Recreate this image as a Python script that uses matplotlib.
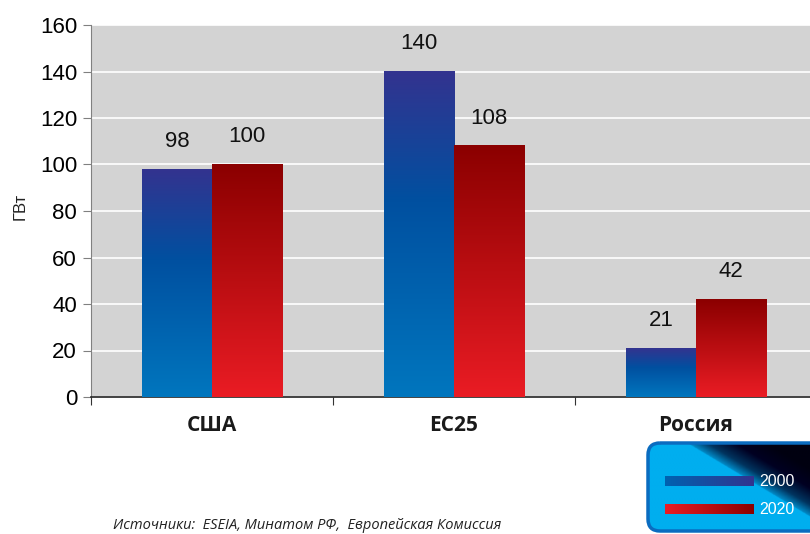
import numpy as np
import matplotlib
matplotlib.use("Agg")
import matplotlib.pyplot as plt
from matplotlib.colors import LinearSegmentedColormap
from matplotlib.patches import FancyBboxPatch

# данные: установленная мощность, ГВт
regions = ["США", "ЕС25", "Россия"]
years = ["2000", "2020"]
values_2000 = [98, 140, 21]
values_2020 = [100, 108, 42]
y_ticks = [0, 20, 40, 60, 80, 100, 120, 140, 160]

blue_cmap = LinearSegmentedColormap.from_list(
    "blue", [(0.0, "#0076be"), (0.6, "#0050a0"), (1.0, "#33338f")])
red_cmap = LinearSegmentedColormap.from_list(
    "red", [(0.0, "#ea1c24"), (1.0, "#8b0000")])

W, H = 810, 534
fig = plt.figure(figsize=(W / 100, H / 100), dpi=100)
ax = fig.add_axes([91 / W, 1 - 397 / H, 726 / W, 372 / H])
ax.set_facecolor("#d3d3d3")

x = np.arange(len(regions))
bw = 0.29
grad = np.linspace(0, 1, 256).reshape(-1, 1)


def gradient_bars(xpos, vals, cmap):
    bars = ax.bar(xpos, vals, bw, color="none", zorder=3)
    for b in bars:
        x0, h = b.get_x(), b.get_height()
        ax.imshow(grad, cmap=cmap, origin="lower", aspect="auto",
                  extent=(x0, x0 + bw, 0, h), zorder=3)
    for xi, v in zip(xpos, vals):
        ax.annotate(str(v), (xi, v), xytext=(0, 20), textcoords="offset points",
                    ha="center", va="center", fontsize=16,
                    family="Liberation Sans", color="#111111")


gradient_bars(x - bw / 2, values_2000, blue_cmap)
gradient_bars(x + bw / 2, values_2020, red_cmap)

ax.set_xlim(-0.5, 2.5)
ax.set_ylim(0, 160)
ax.set_yticks(y_ticks)
ax.set_yticklabels([str(t) for t in y_ticks], family="Liberation Sans", fontsize=16)
ax.yaxis.grid(True, color="white", lw=1.2, zorder=1)
ax.set_axisbelow(True)

ax.set_xticks([-0.5, 0.5, 1.5])
ax.set_xticklabels([])
ax.set_xticks(x, minor=True)
ax.set_xticklabels(regions, minor=True, fontweight="bold", family="Open Sans",
                   fontsize=15, color="#1a1a1a")
ax.tick_params(axis="x", which="major", direction="out", length=6, color="#333333")
ax.tick_params(axis="x", which="minor", length=0, pad=13)
ax.tick_params(axis="y", direction="out", length=6, color="#808080", pad=4)

for s in ["top", "right"]:
    ax.spines[s].set_visible(False)
ax.spines["left"].set_color("#808080")
ax.spines["bottom"].set_color("#222222")
ax.spines["bottom"].set_linewidth(1.2)

fig.text(20 / W, 1 - 206 / H, "ГВт", rotation=90, ha="center", va="center",
         family="Liberation Sans", fontsize=12, color="#222222")

fig.text(113 / W, 1 - 518 / H, "Источники:  ESEIA, Минатом РФ,  Европейская Комиссия",
         ha="left", va="top", style="italic", family="Open Sans", fontsize=10.5,
         color="#222222")

# легенда
lax = fig.add_axes([0, 0, 1, 1], zorder=5)
lax.set_xlim(0, W)
lax.set_ylim(H, 0)
lax.axis("off")
box = FancyBboxPatch((648, 443), 180, 88, boxstyle="round,pad=0,rounding_size=12",
                     facecolor="none", edgecolor="#0a6cc0", lw=2.5, zorder=3)
lax.add_patch(box)
gx, gy = np.meshgrid(np.linspace(0, 1, 300), np.linspace(0, 1, 150))
shade = np.clip((gx - 0.217 - 0.813 * gy) / 0.45, 0, 1)
bg_cmap = LinearSegmentedColormap.from_list(
    "bg", [(0.0, "#00aeef"), (0.02, "#0088c4"), (0.25, "#00345f"),
           (0.6, "#000022"), (1.0, "#000010")])
im = lax.imshow(shade, cmap=bg_cmap, extent=(648, 828, 531, 443), aspect="auto",
                interpolation="bilinear")
im.set_clip_path(box)

line_grad = np.linspace(0, 1, 256).reshape(1, -1)
lax.imshow(line_grad, cmap=LinearSegmentedColormap.from_list("lb", ["#0062b0", "#32338f"]),
           extent=(665, 754, 486, 476), aspect="auto")
lax.imshow(line_grad, cmap=LinearSegmentedColormap.from_list("lr", ["#ea1c24", "#8b0000"]),
           extent=(665, 754, 514, 504), aspect="auto")
for yy, lbl in zip([481, 509], years):
    lax.text(759, yy, lbl, ha="left", va="center", color="white",
             family="Liberation Sans", fontsize=11.5)

fig.savefig("out.png", dpi=100)
